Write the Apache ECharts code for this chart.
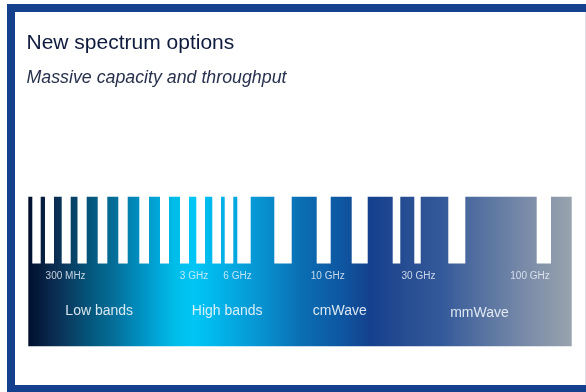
<!DOCTYPE html>
<html><head><meta charset="utf-8">
<script src="https://cdn.jsdelivr.net/npm/echarts@6/dist/echarts.min.js"></script>
<style>html,body{margin:0;padding:0;background:#fff}#c{width:586px;height:392px}</style>
</head><body><div id="c"></div>
<script>
// Spectrum positions (band-relative units)
const bandExtent = [0, 543.4];
const bandTop = 150;
const toothBottom = 83;
const gapStarts = [4.0, 16.7, 33.4, 49.2, 69.4, 90.0, 111.0, 131.7, 151.7, 168.0, 184.0, 196.4, 209.0, 246.0, 288.4, 323.4, 364.4, 386.0, 420.0, 508.4];
const gapEnds   = [12.4, 25.7, 42.4, 58.4, 79.0, 99.4, 120.7, 140.7, 160.7, 176.7, 192.7, 205.0, 222.4, 263.4, 302.4, 339.4, 372.0, 392.4, 437.0, 522.7];
const freqLabels = ['300 MHz', '3 GHz', '6 GHz', '10 GHz', '30 GHz', '100 GHz'];
const freqPositions = [37.3, 165.7, 209.2, 299.4, 390.2, 501.7];
const freqLevel = 70;
const bandNames = ['Low bands', 'High bands', 'cmWave', 'mmWave'];
const bandNamePositions = [70.9, 198.9, 311.5, 451.2];
const bandNameLevels = [35, 35, 35, 33];

const FONT = '"Liberation Sans", Arial, Helvetica, sans-serif';
const chart = echarts.init(document.getElementById('c'), null, {renderer: 'canvas'});

const gradientStops = [
  {offset: 0.00, color: '#00102e'},
  {offset: 0.05, color: '#0b2d52'},
  {offset: 0.12, color: '#045a80'},
  {offset: 0.16, color: '#05709a'},
  {offset: 0.195, color: '#0088b8'},
  {offset: 0.235, color: '#00a5d6'},
  {offset: 0.27, color: '#00bde9'},
  {offset: 0.305, color: '#00c6f6'},
  {offset: 0.34, color: '#01b8ec'},
  {offset: 0.43, color: '#0892d0'},
  {offset: 0.50, color: '#0a6fb3'},
  {offset: 0.575, color: '#0e57a2'},
  {offset: 0.63, color: '#14408c'},
  {offset: 0.70, color: '#284e93'},
  {offset: 0.76, color: '#34599a'},
  {offset: 0.86, color: '#617aa3'},
  {offset: 0.93, color: '#7f8fa9'},
  {offset: 1.00, color: '#98a3ae'}
];

chart.setOption({
  animation: false,
  backgroundColor: '#ffffff',
  title: [
    {text: 'New spectrum options', left: 26.5, top: 33, padding: 0,
     textStyle: {fontFamily: FONT, fontSize: 21, fontWeight: 'normal', color: '#0f1b3d'}},
    {text: 'Massive capacity and throughput', left: 26.5, top: 69.5, padding: 0,
     textStyle: {fontFamily: FONT, fontSize: 17.8, fontStyle: 'italic', fontWeight: 'normal', color: '#27314d'}}
  ],
  grid: {left: 28.3, right: 14.3, top: 196.7, bottom: 45.7},
  xAxis: {type: 'value', min: bandExtent[0], max: bandExtent[1], show: false},
  yAxis: {type: 'value', min: 0, max: bandTop, show: false},
  graphic: [
    {type: 'rect', shape: {x: 7, y: 4, width: 579, height: 8}, style: {fill: '#15408e'}},
    {type: 'rect', shape: {x: 7, y: 4, width: 8, height: 388}, style: {fill: '#15408e'}},
    {type: 'rect', shape: {x: 7, y: 385, width: 579, height: 7}, style: {fill: '#15408e'}},
    {type: 'rect', shape: {x: 585, y: 12, width: 1, height: 373}, style: {fill: '#dcdde6'}}
  ],
  series: [
    {
      type: 'custom', silent: true, z: 1,
      data: [[bandExtent[0], bandExtent[1]]],
      renderItem: function (params, api) {
        const p0 = api.coord([api.value(0), bandTop]);
        const p1 = api.coord([api.value(1), 0]);
        return {type: 'rect', shape: {x: p0[0], y: p0[1], width: p1[0] - p0[0], height: p1[1] - p0[1]},
          style: {fill: {type: 'linear', x: 0, y: 0, x2: 1, y2: 0, colorStops: gradientStops}}};
      }
    },
    {
      type: 'custom', silent: true, z: 2,
      data: gapStarts.map((s, i) => [s, gapEnds[i]]),
      renderItem: function (params, api) {
        const p0 = api.coord([api.value(0), bandTop]);
        const p1 = api.coord([api.value(1), toothBottom]);
        return {type: 'rect', shape: {x: p0[0], y: p0[1] - 2, width: p1[0] - p0[0], height: p1[1] - p0[1] + 2},
          style: {fill: '#ffffff'}};
      }
    },
    {
      type: 'custom', silent: true, z: 3,
      data: freqPositions.map((x, i) => [x, freqLevel]),
      renderItem: function (params, api) {
        const p = api.coord([api.value(0), api.value(1)]);
        return {type: 'text', x: p[0], y: p[1],
          style: {text: freqLabels[params.dataIndex], fill: 'rgba(235,242,250,0.82)',
            fontFamily: FONT, fontSize: 10, align: 'center', verticalAlign: 'middle'}};
      }
    },
    {
      type: 'custom', silent: true, z: 3,
      data: bandNamePositions.map((x, i) => [x, bandNameLevels[i]]),
      renderItem: function (params, api) {
        const p = api.coord([api.value(0), api.value(1)]);
        return {type: 'text', x: p[0], y: p[1],
          style: {text: bandNames[params.dataIndex], fill: 'rgba(240,246,252,0.9)',
            fontFamily: FONT, fontSize: 14, align: 'center', verticalAlign: 'middle'}};
      }
    }
  ]
});
</script>
</body></html>
